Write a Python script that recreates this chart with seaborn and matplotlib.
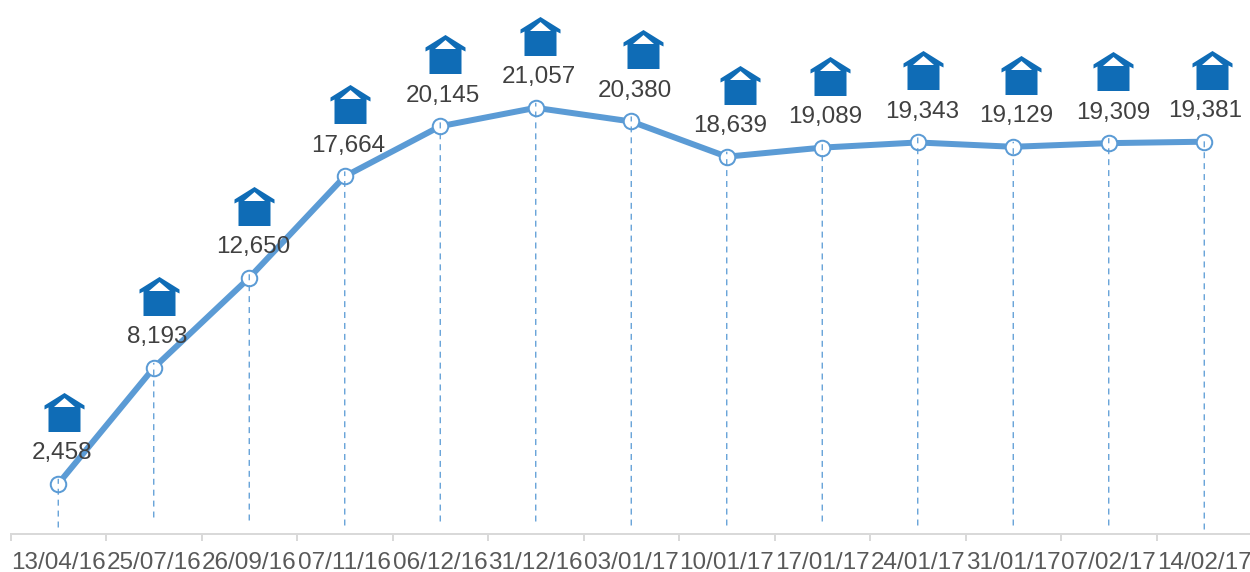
import matplotlib
matplotlib.use('Agg')
import matplotlib.pyplot as plt
import matplotlib.transforms as mtrans
from matplotlib.path import Path
import pandas as pd
import seaborn as sns

dates = ['13/04/16', '25/07/16', '26/09/16', '07/11/16', '06/12/16', '31/12/16', '03/01/17',
         '10/01/17', '17/01/17', '24/01/17', '31/01/17', '07/02/17', '14/02/17']
values = [2458, 8193, 12650, 17664, 20145, 21057, 20380, 18639, 19089, 19343, 19129, 19309, 19381]

# offsets in pixels from each point, the icons are not placed evenly in the original
label_dx = [4, 3, 4, 3, 3, 3, 4, 3, 3, 4, 3, 4, 1]
house_dx = [6, 5, 5, 5, 5, 4, 12, 13, 8, 5, 8, 4, 8]
drop_end = [6, 16, 13, 8, 12, 12, 8, 8, 12, 8, 8, 8, 4]

LINE = '#5b9bd5'
HOUSE = '#0f6cb6'
TEXT = '#404040'
AXIS = '#d9d9d9'
DPI = 100
px = 72 / DPI

sns.set_theme(style='white')
plt.rcParams['font.family'] = ['Liberation Sans', 'DejaVu Sans']

df = pd.DataFrame({'date': dates, 'value': values})
df['pos'] = range(len(df))

fig = plt.figure(figsize=(12.5, 5.72), dpi=DPI)
ax = fig.add_axes([10.5 / 1250, (572 - 533.5) / 572, 1241.5 / 1250, 533.5 / 572])
ax.patch.set_alpha(0)

ax.set_xlim(-0.5, 12.5)
ymax = 533.5 / 0.020216
ax.set_ylim(0, ymax)

sns.lineplot(data=df, x='pos', y='value', color=LINE, linewidth=6 * px, ax=ax,
             solid_joinstyle='round', zorder=2)
sns.scatterplot(data=df, x='pos', y='value', s=(15.5 * px) ** 2, color='white',
                edgecolor=LINE, linewidth=2 * px, ax=ax, zorder=3, clip_on=False)

# dashed drop lines stop a little above the axis and show inside the circles
to_val = 1 / 0.020216
for i, v in enumerate(values):
    ax.plot([i, i], [drop_end[i] * to_val, v + 5 * to_val], color=LINE, lw=1.3 * px,
            dashes=(4.6, 3.8), zorder=4, snap=False)

house = Path(
    [(0, 19.5), (20, 7), (20, 3), (16, 5), (16, -19.5), (-16, -19.5), (-16, 5), (-20, 3), (-20, 7), (0, 19.5),
     (0, 14.5), (-10.5, 5.5), (10.5, 5.5), (0, 14.5)],
    [Path.MOVETO] + [Path.LINETO] * 8 + [Path.CLOSEPOLY, Path.MOVETO, Path.LINETO, Path.LINETO, Path.CLOSEPOLY])

for i, v in enumerate(values):
    ax.annotate(f'{v:,}', (i, v), xytext=(label_dx[i] * px, 30.5 * px), textcoords='offset points',
                ha='center', va='center', fontsize=17.5, color=TEXT, zorder=5)
    offset = mtrans.offset_copy(ax.transData, fig=fig, x=house_dx[i] * px, y=72 * px, units='points')
    ax.scatter([i], [v], marker=house, s=(40 * px) ** 2, color=HOUSE, linewidths=0,
               transform=offset, zorder=5, clip_on=False)

for side in ['left', 'right', 'top']:
    ax.spines[side].set_visible(False)
ax.spines['bottom'].set_color(AXIS)
ax.spines['bottom'].set_linewidth(2 * px)

ax.set_xlabel('')
ax.set_ylabel('')
ax.set_yticks([])
ax.set_xticks([i - 0.5 for i in range(len(dates) + 1)])
ax.set_xticklabels([])
ax.tick_params(axis='x', which='major', bottom=True, length=7 * px, width=2 * px, color=AXIS)
ax.set_xticks(range(len(dates)), minor=True)
ax.set_xticklabels(dates, minor=True, fontsize=17.5, color='#595959')
ax.tick_params(axis='x', which='minor', bottom=False, pad=12.5 * px)

fig.savefig('out.png', dpi=DPI)
